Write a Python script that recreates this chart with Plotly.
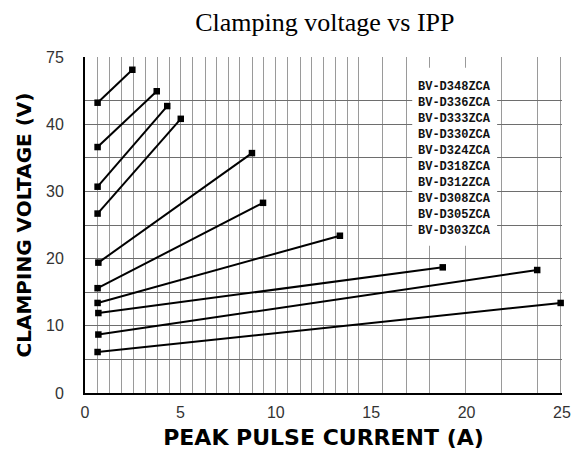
import plotly.graph_objects as go

# Series (x: peak pulse current in A, y: position on the drawn voltage scale)
series_names = ["BV-D348ZCA", "BV-D336ZCA", "BV-D333ZCA", "BV-D330ZCA", "BV-D324ZCA",
                "BV-D318ZCA", "BV-D312ZCA", "BV-D308ZCA", "BV-D305ZCA", "BV-D303ZCA"]
x_start = [0.66, 0.66, 0.66, 0.66, 0.70, 0.66, 0.66, 0.70, 0.70, 0.66]
y_start = [43.2, 36.6, 30.7, 26.7, 19.4, 15.6, 13.4, 11.9, 8.7, 6.1]
x_end = [2.48, 3.76, 4.31, 5.02, 8.75, 9.33, 13.36, 18.75, 23.70, 24.93]
y_end = [48.1, 44.9, 42.7, 40.8, 35.7, 28.3, 23.4, 18.7, 18.3, 13.4]

x_ticks = [0, 5, 10, 15, 20, 25]
y_tickvals = [0, 10, 20, 30, 40, 50]
y_ticktext = ["0", "10", "20", "30", "40", "75"]

x_grid = [0.66, 1.31, 1.92, 2.53, 3.18, 3.79, 4.42, 4.99, 5.64, 6.29, 6.90, 7.51, 8.12,
          8.77, 9.38, 9.99, 10.62, 11.27, 11.88, 12.49, 13.14, 13.75, 14.36, 15.6, 16.86,
          18.08, 19.95, 21.84, 23.7, 24.93]
y_grid_minor = [5, 15, 25, 35, 43.5]

fig = go.Figure()
for i, name in enumerate(series_names):
    fig.add_trace(go.Scatter(
        x=[x_start[i], x_end[i]], y=[y_start[i], y_end[i]],
        mode="lines+markers", name=name, showlegend=False,
        line=dict(color="black", width=2),
        marker=dict(symbol="square", size=6.5, color="black"),
        cliponaxis=False,
    ))

# white box behind the labels
fig.add_shape(type="rect", xref="x", yref="y", x0=17.15, x1=21.6, y0=21.9, y1=48.4,
              fillcolor="white", line=dict(width=0), layer="above")
for i, name in enumerate(series_names):
    fig.add_annotation(x=17.35, y=45.6 - i * 2.385, xref="x", yref="y", text="<b>" + name + "</b>",
                       showarrow=False, xanchor="left", yanchor="middle",
                       font=dict(family="Liberation Mono", size=12, color="#111"))

fig.update_layout(
    width=575, height=450,
    margin=dict(l=85, r=13, t=57, b=57),
    paper_bgcolor="white", plot_bgcolor="white",
    title=dict(text="Clamping voltage vs IPP", x=0.565, xanchor="center", y=0.951,
               yanchor="middle", font=dict(family="Liberation Serif", size=26, color="black")),
    xaxis=dict(
        range=[0, 25], tickvals=x_ticks, ticks="", showgrid=False, zeroline=False,
        showline=True, linecolor="black", linewidth=2, automargin=False,
        ticklabelstandoff=4,
        tickfont=dict(family="Liberation Sans", size=16, color="#333"),
        title=dict(text="<b>PEAK PULSE CURRENT (A)</b>", standoff=11,
                   font=dict(family="DejaVu Sans", size=22, color="black")),
        minor=dict(tickvals=x_grid, showgrid=True, gridcolor="#9a9a9a", gridwidth=1, ticks=""),
    ),
    yaxis=dict(
        range=[0, 50], tickvals=y_tickvals, ticktext=y_ticktext, ticks="",
        showgrid=True, gridcolor="#6e6e6e", gridwidth=1, zeroline=False,
        showline=True, linecolor="black", linewidth=2, automargin=False,
        ticklabelstandoff=16,
        tickfont=dict(family="Liberation Sans", size=16, color="#333"),
        title=dict(text="<b>CLAMPING VOLTAGE (V)</b>", standoff=9,
                   font=dict(family="DejaVu Sans", size=20, color="black")),
        minor=dict(tickvals=y_grid_minor, showgrid=True, gridcolor="#6e6e6e", gridwidth=1, ticks=""),
    ),
)

fig.write_html("out.html", config={"displayModeBar": False},
               post_script="document.body.style.margin='0';document.body.style.overflow='hidden';")
